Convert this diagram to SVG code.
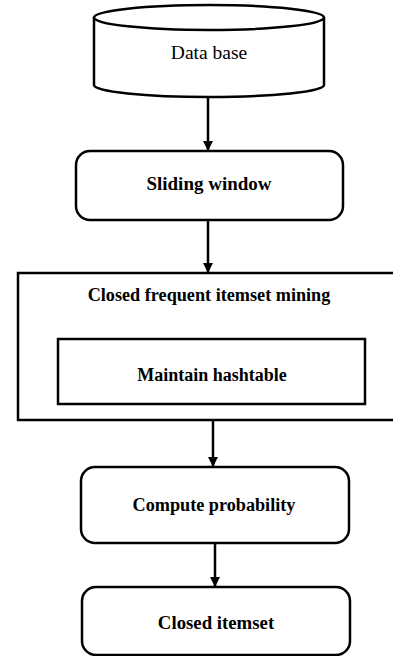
<svg xmlns="http://www.w3.org/2000/svg" width="393" height="656" viewBox="0 0 393 656">
  <style>
    .shape { fill: #ffffff; stroke: #000000; stroke-width: 2.5; }
    .edge { stroke: #000000; stroke-width: 2.5; fill: none; }
    .label { font-family: "Liberation Serif", "Times New Roman", serif; font-size: 18px; fill: #000000; text-anchor: middle; }
    .bold { font-weight: bold; }
  </style>
  <defs>
    <marker id="arrow" viewBox="0 0 10 10" refX="10" refY="5" markerWidth="4" markerHeight="4" orient="auto" markerUnits="strokeWidth">
      <path d="M0,0 L10,5 L0,10 Z" fill="#000000"/>
    </marker>
  </defs>
  <rect width="393" height="656" fill="#ffffff"/>

  <!-- database cylinder -->
  <g id="database">
    <path class="shape" d="M94,17 L94,85 A115,12 0 0 0 324,85 L324,17"/>
    <ellipse class="shape" cx="209" cy="17.5" rx="115" ry="12.5"/>
    <text class="label" x="209" y="59" style="font-size:19.5px">Data base</text>
  </g>

  <g id="sliding-window">
    <rect class="shape" x="76" y="151" width="267" height="69" rx="14" ry="14"/>
    <text class="label bold" x="209" y="190" style="font-size:19px">Sliding window</text>
  </g>

  <g id="mining">
    <rect class="shape" x="18" y="273" width="380" height="147"/>
    <text class="label bold" x="209" y="301" style="font-size:18.2px">Closed frequent itemset mining</text>
  </g>

  <g id="hashtable">
    <rect class="shape" x="58" y="339" width="307" height="65"/>
    <text class="label bold" x="212" y="381">Maintain hashtable</text>
  </g>

  <g id="probability">
    <rect class="shape" x="81" y="467" width="268" height="76" rx="14" ry="14"/>
    <text class="label bold" x="214" y="511" style="font-size:18.2px">Compute probability</text>
  </g>

  <g id="closed-itemset">
    <rect class="shape" x="82" y="587" width="268" height="68" rx="14" ry="14"/>
    <text class="label bold" x="216" y="629" style="font-size:18.8px">Closed itemset</text>
  </g>

  <g id="connectors">
    <line class="edge" x1="208" y1="97" x2="208" y2="151" marker-end="url(#arrow)"/>
    <line class="edge" x1="208" y1="220" x2="208" y2="273" marker-end="url(#arrow)"/>
    <line class="edge" x1="213" y1="420" x2="213" y2="467" marker-end="url(#arrow)"/>
    <line class="edge" x1="215" y1="543" x2="215" y2="587" marker-end="url(#arrow)"/>
  </g>
</svg>
